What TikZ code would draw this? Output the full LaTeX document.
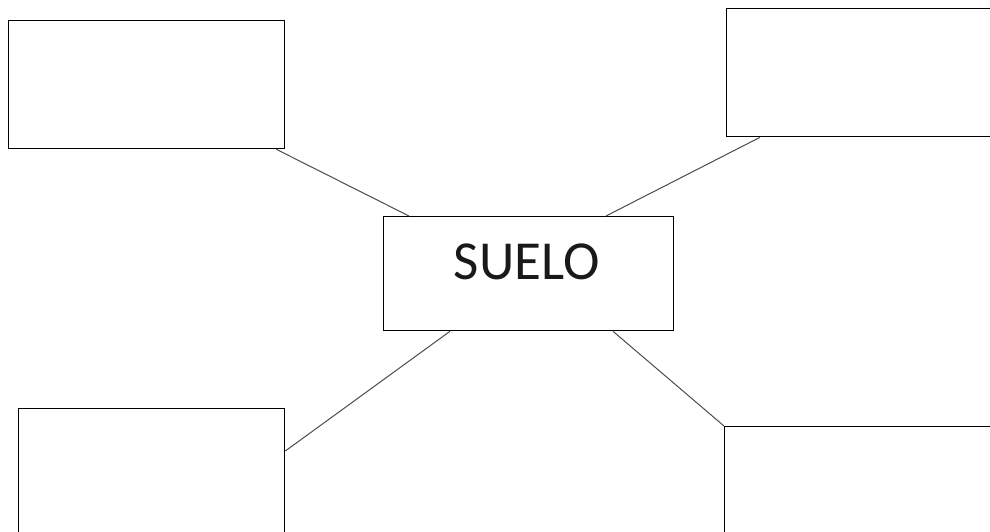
\documentclass[tikz,border=0pt]{standalone}
\usepackage{fontspec}
\setmainfont{Carlito}
\usetikzlibrary{calc}
\begin{document}
\begin{tikzpicture}[x=1pt,y=-1pt,
  box/.style={draw=black, line width=1.3pt, fill=white, inner sep=0pt, anchor=north west},
  link/.style={draw=black!70, line width=1pt},
  lbl/.style={font=\fontsize{55pt}{60pt}\selectfont, text=black!90, inner sep=0pt}]
\useasboundingbox (0,0) rectangle (990,532);
\clip (0,0) rectangle (990,532);
\fill[white] (0,0) rectangle (990,532);
\node[box, minimum width=276pt, minimum height=128pt] (tl) at (8,20) {};
\node[box, minimum width=300pt, minimum height=128pt] (tr) at (726,8) {};
\node[box, minimum width=266pt, minimum height=160pt] (bl) at (18,408) {};
\node[box, minimum width=300pt, minimum height=150pt] (br) at (724,426) {};
\node[box, minimum width=290pt, minimum height=114pt] (c) at (383,216) {};
\node[lbl] (ct) at ($(c.center)+(-2,-12)$) {SUELO};
\draw[link] ($(tl.south east)+(-9,0)$) -- ($(c.north west)+(26,0)$);
\draw[link] ($(tr.south west)+(34,0)$) -- ($(c.north west)+(223,0)$);
\draw[link] ($(c.south west)+(67,0)$) -- ($(bl.north east)+(0,43)$);
\draw[link] ($(c.south west)+(230,0)$) -- (br.north west);
\end{tikzpicture}
\end{document}
